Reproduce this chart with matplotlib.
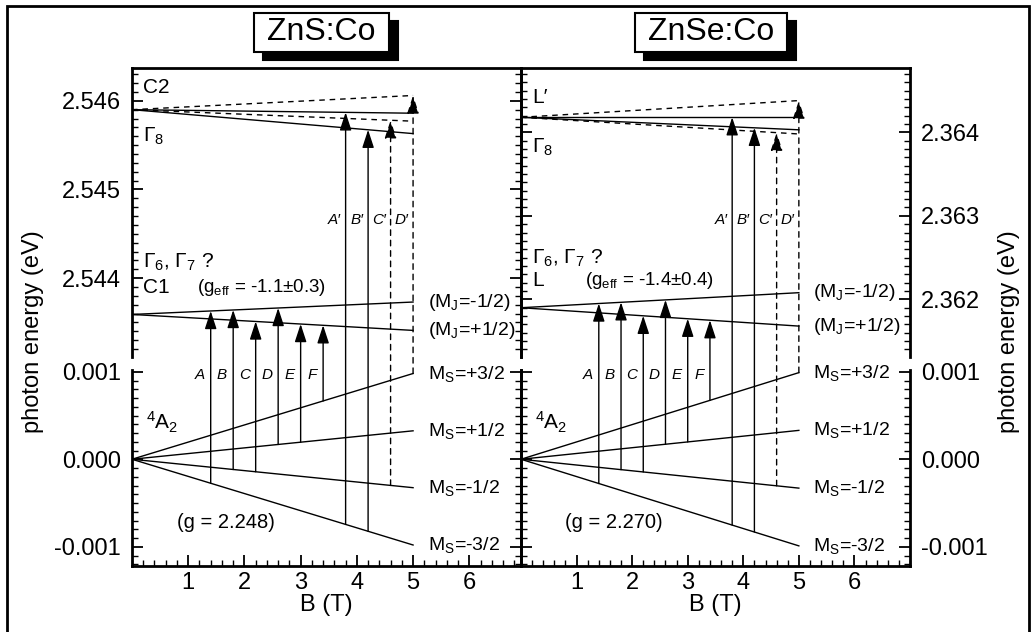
import numpy as np
import matplotlib
matplotlib.use("Agg")
import matplotlib.pyplot as plt
from matplotlib.patches import ConnectionPatch, Rectangle
from matplotlib.ticker import MultipleLocator, FixedLocator, FormatStrFormatter

plt.rcParams['font.family'] = ['Liberation Sans', 'DejaVu Sans']
plt.rcParams['mathtext.fontset'] = 'custom'
plt.rcParams['mathtext.rm'] = 'Liberation Sans'
plt.rcParams['mathtext.it'] = 'Liberation Sans:italic'
plt.rcParams['mathtext.bf'] = 'Liberation Sans:bold'
plt.rcParams['axes.unicode_minus'] = False

# ---- data ----
b_end = 5.0                       # all levels drawn from B = 0 to 5 T
titles = ['ZnS:Co', 'ZnSe:Co']
g_ground = ['2.248', '2.270']
g_eff = ['-1.1\u00b10.3', '-1.4\u00b10.4']
upper_names = [('C2', 'C1'), ('L\u2032', 'L')]

ms_labels = ['+3/2', '+1/2', '-1/2', '-3/2']
mj_labels = ['-1/2', '+1/2']

# ground state 4A2 Zeeman levels: energy at B = 5 T (start at 0)
zns_ground_end = [0.00098, 0.000325, -0.000325, -0.00098]
znse_ground_end = [0.00099, 0.00033, -0.00033, -0.00099]

# C1 / L level (M_J = -1/2, +1/2)
zns_c1_start = 2.54359
zns_c1_end = [2.54373, 2.54341]
znse_c1_start = 2.36190
znse_c1_end = [2.36208, 2.36168]

# Gamma8 / C2 level: two solid, two dashed branches
zns_g8_start = 2.54590
zns_g8_solid_end = [2.54586, 2.54563]
zns_g8_dashed_end = [2.54606, 2.54577]
znse_g8_start = 2.36418
znse_g8_solid_end = [2.36418, 2.36403]
znse_g8_dashed_end = [2.36438, 2.36398]

# transitions
trans_b = [1.4, 1.8, 2.2, 2.6, 3.0, 3.4, 3.8, 4.2, 4.6, 5.0]
trans_names = ['A', 'B', 'C', 'D', 'E', 'F', 'A\u2032', 'B\u2032', 'C\u2032', 'D\u2032']
trans_from = [3, 2, 2, 1, 1, 0, 3, 3, 2, 0]          # ground level index
trans_to = ['c1_0', 'c1_0', 'c1_1', 'c1_0', 'c1_1', 'c1_1',
            'solid_0', 'solid_1', 'dashed_1', 'dashed_0']
trans_dashed = [False] * 8 + [True, True]

# axis ranges
up_ylims = [(2.54311, 2.54637), (2.36131, 2.36477)]
up_ticks = [[2.544, 2.545, 2.546], [2.362, 2.363, 2.364]]
lo_ylim = (-0.00122, 0.00102)
lo_ticks = [-0.001, 0.0, 0.001]
xlims = [(0, 6.92), (0, 7.0)]
x_ticks = [1, 2, 3, 4, 5, 6]

# ---- layout (pixels) ----
W, H = 1032, 632
fig = plt.figure(figsize=(W / 100, H / 100), dpi=100)


def rect(x0, y0, x1, y1):
    return [x0 / W, 1 - y1 / H, (x1 - x0) / W, (y1 - y0) / H]


panel_x = [(132, 521), (521, 910)]
up_px = (68, 357)
lo_px = (370, 566)

DASH = (0, (4, 3.5))
LW = 1.0
TICK_FS = 17
LEVEL_FS = 14

ground_ends = [zns_ground_end, znse_ground_end]
c1_starts = [zns_c1_start, znse_c1_start]
c1_ends = [zns_c1_end, znse_c1_end]
g8_starts = [zns_g8_start, znse_g8_start]
g8_solid = [zns_g8_solid_end, znse_g8_solid_end]
g8_dashed = [zns_g8_dashed_end, znse_g8_dashed_end]


def style_axis(ax, side):
    for s in ax.spines.values():
        s.set_linewidth(2.0)
    ax.tick_params(which='both', direction='in', left=True, right=True,
                   top=False, bottom=False, labelbottom=False,
                   labelleft=(side == 0), labelright=(side == 1),
                   labelsize=TICK_FS, pad=8)
    ax.tick_params(which='major', length=8, width=1.3)
    ax.tick_params(which='minor', length=4.5, width=1.0)


for p in range(2):
    x0, x1 = panel_x[p]
    ax_up = fig.add_axes(rect(x0, up_px[0], x1, up_px[1]))
    ax_lo = fig.add_axes(rect(x0, lo_px[0], x1, lo_px[1]))
    for ax in (ax_up, ax_lo):
        ax.set_xlim(*xlims[p])
        ax.patch.set_alpha(0)
        style_axis(ax, p)
    ax_up.spines['bottom'].set_visible(False)
    ax_lo.spines['top'].set_visible(False)

    ax_up.set_ylim(*up_ylims[p])
    ax_up.yaxis.set_major_locator(FixedLocator(up_ticks[p]))
    ax_up.yaxis.set_minor_locator(MultipleLocator(0.0001))
    ax_up.yaxis.set_major_formatter(FormatStrFormatter('%.3f'))
    ax_up.set_xticks([])

    ax_lo.set_ylim(*lo_ylim)
    ax_lo.yaxis.set_major_locator(FixedLocator(lo_ticks))
    ax_lo.yaxis.set_minor_locator(MultipleLocator(0.0001))
    ax_lo.yaxis.set_major_formatter(FormatStrFormatter('%.3f'))
    ax_lo.xaxis.set_major_locator(FixedLocator(x_ticks))
    ax_lo.xaxis.set_minor_locator(MultipleLocator(0.2))
    ax_lo.tick_params(axis='x', which='both', bottom=True, labelbottom=True, pad=4)
    ax_lo.set_xlabel('B (T)', fontsize=TICK_FS, labelpad=0)

    bx = [0, b_end]
    # ground state
    levels = {}
    for k, e in enumerate(ground_ends[p]):
        ax_lo.plot(bx, [0, e], color='black', lw=LW)
        ax_lo.text(5.26, e, 'M$_\\mathrm{S}$=' + ms_labels[k], fontsize=LEVEL_FS,
                   va='center', ha='left')
    # C1 / L level
    for k, e in enumerate(c1_ends[p]):
        ax_up.plot(bx, [c1_starts[p], e], color='black', lw=LW)
        ax_up.text(5.26, e, '(M$_\\mathrm{J}$=' + mj_labels[k] + ')', fontsize=LEVEL_FS,
                   va='center', ha='left')
        levels['c1_%d' % k] = (c1_starts[p], e)
    # Gamma8 level
    for k, e in enumerate(g8_solid[p]):
        ax_up.plot(bx, [g8_starts[p], e], color='black', lw=LW)
        levels['solid_%d' % k] = (g8_starts[p], e)
    for k, e in enumerate(g8_dashed[p]):
        ax_up.plot(bx, [g8_starts[p], e], color='black', lw=LW, ls=DASH)
        levels['dashed_%d' % k] = (g8_starts[p], e)

    # transitions
    for b, name, fr, to, dashed in zip(trans_b, trans_names, trans_from, trans_to, trans_dashed):
        e_lo = np.interp(b, bx, [0, ground_ends[p][fr]])
        e_up = np.interp(b, bx, levels[to])
        con = ConnectionPatch(xyA=(b, e_lo), coordsA=ax_lo.transData,
                              xyB=(b, e_up), coordsB=ax_up.transData,
                              arrowstyle='-|>,head_length=1.1,head_width=0.36',
                              mutation_scale=10, lw=LW, color='black',
                              ls=DASH if dashed else '-')
        fig.add_artist(con)
        if name in 'ABCDEF':
            ax_lo.text(b - 0.2, 0.00096, name, fontsize=11, style='italic',
                       ha='center', va='center')
        else:
            y_lab = up_ticks[p][0] + 0.00066 if p == 0 else up_ticks[p][0] + 0.00095
            ax_up.text(b - 0.2, y_lab, name, fontsize=11, style='italic',
                       ha='center', va='center')

    # level names
    t_up, t_c1 = upper_names[p]
    if p == 0:
        y_c2, y_g8, y_gam, y_c1 = 2.54615, 2.54560, 2.54418, 2.54389
    else:
        y_c2, y_g8, y_gam, y_c1 = 2.36442, 2.36382, 2.36249, 2.36223
    ax_up.text(0.2, y_c2, t_up, fontsize=15, va='center')
    ax_up.text(0.2, y_g8, '$\\Gamma_8$', fontsize=15, va='center')
    ax_up.text(0.2, y_gam, '$\\Gamma_6$, $\\Gamma_7$ ?', fontsize=15, va='center')
    ax_up.text(0.2, y_c1, t_c1, fontsize=15, va='center')
    ax_up.text(1.15, y_c1, '(g$_\\mathrm{eff}$ = ' + g_eff[p] + ')', fontsize=13.5,
               va='center')
    ax_lo.text(0.25, 0.00042, '$^4$A$_2$', fontsize=15, va='center')
    ax_lo.text(0.8, -0.00072, '(g = ' + g_ground[p] + ')', fontsize=14.5, va='center')

# y labels
fig.text(33 / W, 1 - 332 / H, 'photon energy (eV)', rotation=90, fontsize=TICK_FS,
         ha='center', va='center')
fig.text(1009 / W, 1 - 332 / H, 'photon energy (eV)', rotation=90, fontsize=TICK_FS,
         ha='center', va='center')

# title boxes with drop shadow
title_boxes = [(254, 389), (635, 787)]
for (bx0, bx1), t in zip(title_boxes, titles):
    by0, by1 = 13, 52
    fig.add_artist(Rectangle(((bx0 + 9) / W, 1 - (by1 + 8) / H), (bx1 - bx0) / W,
                             (by1 - by0) / H, transform=fig.transFigure,
                             fc='black', ec='black', lw=1.5))
    fig.add_artist(Rectangle((bx0 / W, 1 - by1 / H), (bx1 - bx0) / W, (by1 - by0) / H,
                             transform=fig.transFigure, fc='white', ec='black', lw=1.5))
    fig.text((bx0 + bx1) / 2 / W, 1 - (by0 + by1) / 2 / H, t, fontsize=23,
             ha='center', va='center')

# outer frame
fig.add_artist(Rectangle((7 / W, -0.05), 1022 / W, 1.05 - 6 / H,
                         transform=fig.transFigure, fill=False, ec='black', lw=2.0))

fig.savefig('out.png', dpi=100)
